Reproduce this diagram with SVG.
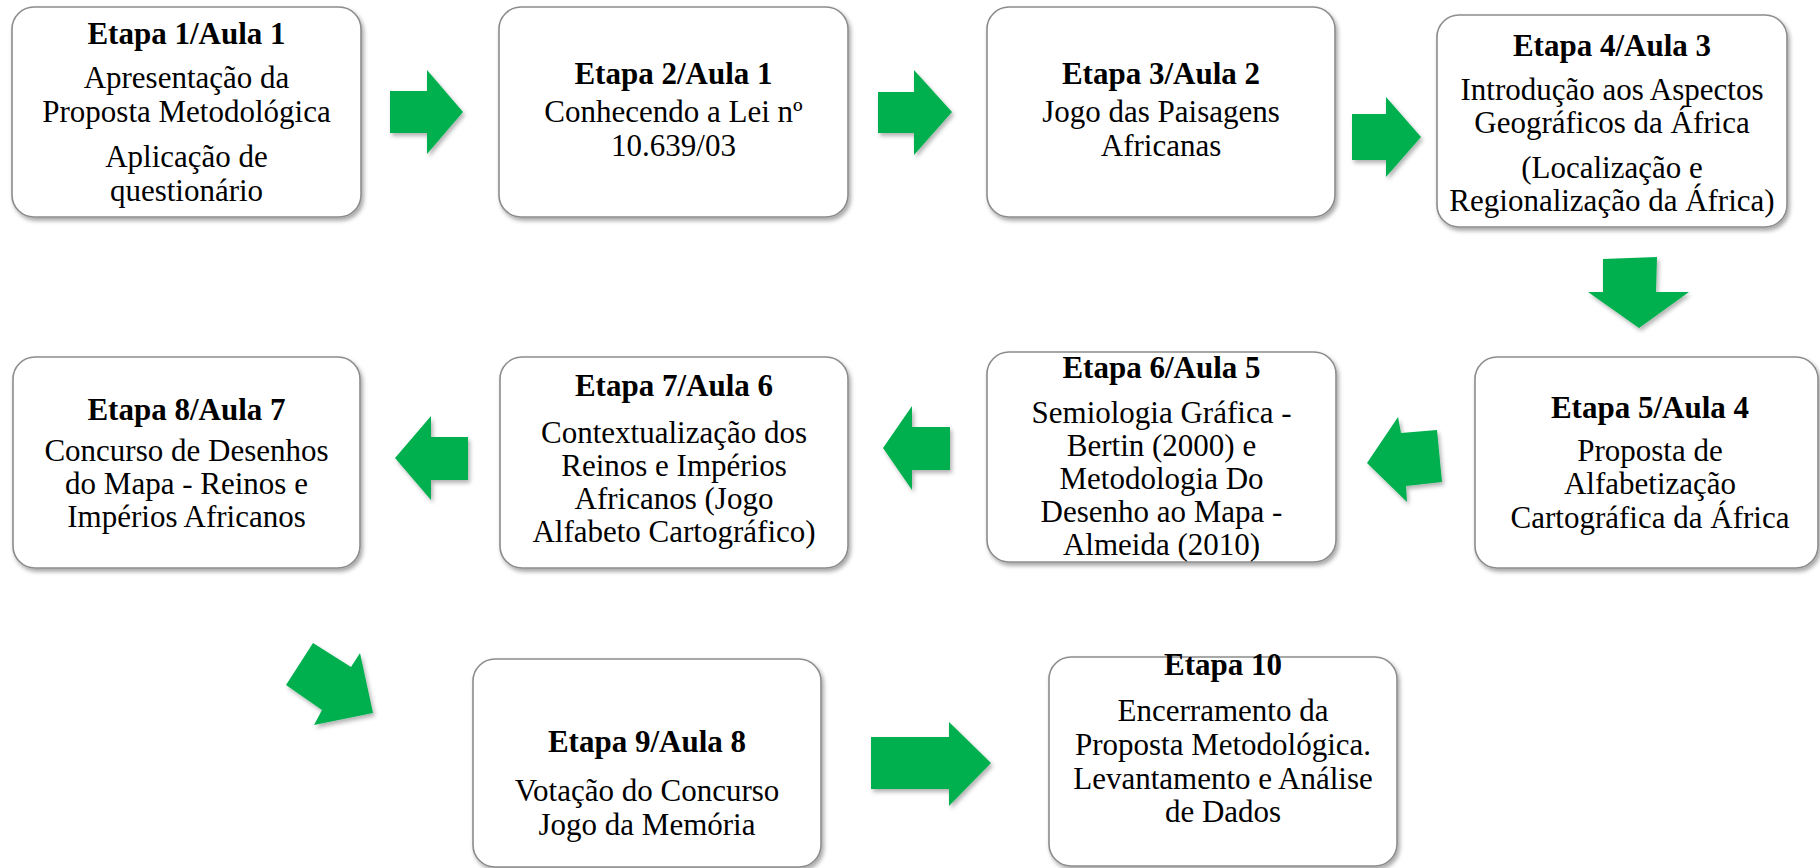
<svg xmlns="http://www.w3.org/2000/svg" width="1820" height="868" viewBox="0 0 1820 868">
<defs>
<filter id="sh" x="-10%" y="-10%" width="125%" height="130%">
<feDropShadow dx="2" dy="3" stdDeviation="2.2" flood-color="#000" flood-opacity="0.35"/>
</filter>
<filter id="ash" x="-20%" y="-20%" width="150%" height="150%">
<feDropShadow dx="2" dy="3" stdDeviation="2" flood-color="#000" flood-opacity="0.3"/>
</filter>
<style>
.box{fill:#fff;stroke:#8c8c8c;stroke-width:1.6;filter:url(#sh)}
.arr{fill:#00B050;filter:url(#ash)}
text{font-family:"Liberation Serif","Times New Roman",serif;font-size:31px;fill:#000;text-anchor:middle}
.t{font-weight:bold}
</style>
</defs>
<rect width="1820" height="868" fill="#fff"/>
<g id="connectors">
<polygon class="arr" points="390,91 427,91 427,70 463,112 427,154 427,133 390,133"/>
<polygon class="arr" points="878,92 914,92 914,70 952,112 914,155 914,133 878,133"/>
<polygon class="arr" points="1352,114 1386,114 1386,97 1421,137 1386,177 1386,160 1352,160"/>
<polygon class="arr" points="1603,259 1657,257 1656,292 1689,292 1639,328 1588,292 1603,292"/>
<polygon class="arr" points="1367,463 1398,417 1401,433 1437,430 1442,482 1406,486 1407,502"/>
<polygon class="arr" points="883,448 912,406 912,427 950,427 950,470 912,470 912,490"/>
<polygon class="arr" points="395,458 431,416 431,437 468,437 468,480 431,480 431,500"/>
<polygon class="arr" points="313,643 351,667 360,653 373,713 314,725 322,710 286,685"/>
<polygon class="arr" points="871,737 949,737 949,722 991,763 949,806 949,789 871,789"/>
</g>
<g id="n1">
<rect class="box" x="12" y="7" width="349" height="210" rx="22"/>
<text class="t" x="186.5" y="44">Etapa 1/Aula 1</text>
<text x="186.5" y="88">Apresentação da</text>
<text x="186.5" y="122">Proposta Metodológica</text>
<text x="186.5" y="167">Aplicação  de</text>
<text x="186.5" y="201">questionário</text>
</g>
<g id="n2">
<rect class="box" x="499" y="7" width="349" height="210" rx="22"/>
<text class="t" x="673.5" y="84">Etapa 2/Aula 1</text>
<text x="673.5" y="122">Conhecendo a Lei nº</text>
<text x="673.5" y="156">10.639/03</text>
</g>
<g id="n3">
<rect class="box" x="987" y="7" width="348" height="210" rx="22"/>
<text class="t" x="1161" y="84">Etapa 3/Aula 2</text>
<text x="1161" y="122">Jogo das Paisagens</text>
<text x="1161" y="156">Africanas</text>
</g>
<g id="n4">
<rect class="box" x="1437" y="15" width="350" height="212" rx="22"/>
<text class="t" x="1612" y="56">Etapa 4/Aula 3</text>
<text x="1612" y="100">Introdução aos Aspectos</text>
<text x="1612" y="133">Geográficos da África</text>
<text x="1612" y="178">(Localização e</text>
<text x="1612" y="211">Regionalização  da África)</text>
</g>
<g id="n5">
<rect class="box" x="1475" y="357" width="343" height="211" rx="22"/>
<text class="t" x="1650" y="418">Etapa 5/Aula 4</text>
<text x="1650" y="461">Proposta de</text>
<text x="1650" y="494">Alfabetização</text>
<text x="1650" y="528">Cartográfica  da África</text>
</g>
<g id="n6">
<rect class="box" x="987" y="352" width="349" height="210" rx="22"/>
<text class="t" x="1161.5" y="378">Etapa 6/Aula 5</text>
<text x="1161.5" y="423">Semiologia Gráfica -</text>
<text x="1161.5" y="456">Bertin (2000)  e</text>
<text x="1161.5" y="489">Metodologia Do</text>
<text x="1161.5" y="522">Desenho ao Mapa -</text>
<text x="1161.5" y="555">Almeida (2010)</text>
</g>
<g id="n7">
<rect class="box" x="500" y="357" width="348" height="211" rx="22"/>
<text class="t" x="674" y="396">Etapa 7/Aula 6</text>
<text x="674" y="443">Contextualização dos</text>
<text x="674" y="476">Reinos e Impérios</text>
<text x="674" y="509">Africanos  (Jogo</text>
<text x="674" y="542">Alfabeto Cartográfico)</text>
</g>
<g id="n8">
<rect class="box" x="13" y="357" width="347" height="211" rx="22"/>
<text class="t" x="186.5" y="420">Etapa 8/Aula 7</text>
<text x="186.5" y="461">Concurso de Desenhos</text>
<text x="186.5" y="494">do Mapa - Reinos e</text>
<text x="186.5" y="527">Impérios Africanos</text>
</g>
<g id="n9">
<rect class="box" x="473" y="659" width="348" height="208" rx="22"/>
<text class="t" x="647" y="752">Etapa 9/Aula 8</text>
<text x="647" y="801">Votação do Concurso</text>
<text x="647" y="835">Jogo da Memória</text>
</g>
<g id="n10">
<rect class="box" x="1049" y="657" width="348" height="209" rx="22"/>
<text class="t" x="1223" y="675">Etapa 10</text>
<text x="1223" y="721">Encerramento da</text>
<text x="1223" y="755">Proposta Metodológica.</text>
<text x="1223" y="789">Levantamento e Análise</text>
<text x="1223" y="822">de Dados</text>
</g>
</svg>
